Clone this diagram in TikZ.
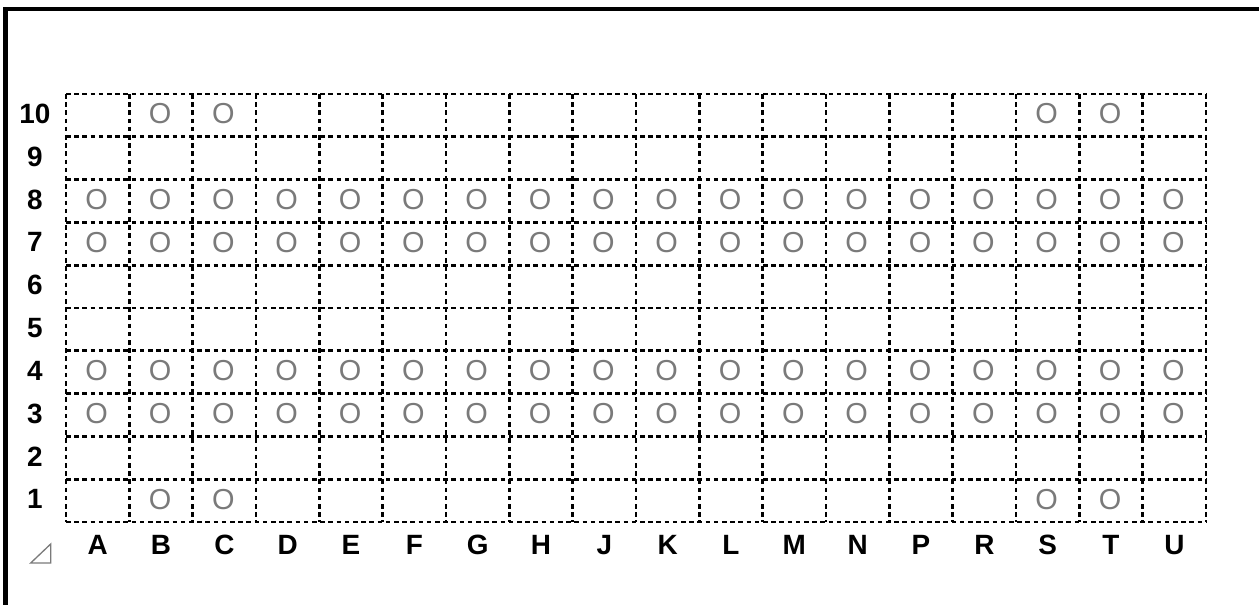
\documentclass[tikz,border=0pt]{standalone}
\usepackage{fontspec}
\setmainfont{Liberation Sans}
\definecolor{markgray}{HTML}{7A7A7A}
\begin{document}
\begin{tikzpicture}[x=1bp,y=-1bp,
  gridline/.style={line width=2.7bp, dash pattern=on 4.6bp off 3.6bp},
  lab/.style={font=\fontsize{28}{28}\selectfont\bfseries, inner sep=0pt},
  circ/.style={font=\fontsize{29}{29}\selectfont, text=markgray, inner sep=0pt}]
\useasboundingbox (0,0) rectangle (1259,605);
% frame
\draw[line width=4bp] (5.5,605) -- (5.5,9.5) -- (1259,9.5);
% grid
\foreach \i in {0,...,10}
  \draw[gridline] (66,{94+\i*42.8}) -- (1206,{94+\i*42.8});
\foreach \j in {0,...,18}
  \draw[gridline] ({66+\j*63.333},94) -- ({66+\j*63.333},522);
% row labels
\foreach \r in {1,...,10}
  \node[lab] (row\r) at (35,{94+(10-\r+0.5)*42.8-1.5}) {\r};
% column labels
\foreach \c [count=\k from 0] in {A,B,C,D,E,F,G,H,J,K,L,M,N,P,R,S,T,U}
  \node[lab] (col\c) at ({66+(\k+0.5)*63.333},545) {\c};
% full rows of marks
\foreach \r in {8,7,4,3}
  \foreach \k in {0,...,17}
    \node[circ] (m\r-\k) at ({66+(\k+0.5)*63.333-1},{94+(10-\r+0.5)*42.8-1.5}) {O};
% partial rows
\foreach \r in {10,1}
  \foreach \k in {1,2,15,16}
    \node[circ] (m\r-\k) at ({66+(\k+0.5)*63.333-1},{94+(10-\r+0.5)*42.8-1.5}) {O};
% corner triangle
\draw[markgray, line width=1.3bp] (30.7,563) -- (50.7,563) -- (50.7,544) -- cycle;
\end{tikzpicture}
\end{document}
